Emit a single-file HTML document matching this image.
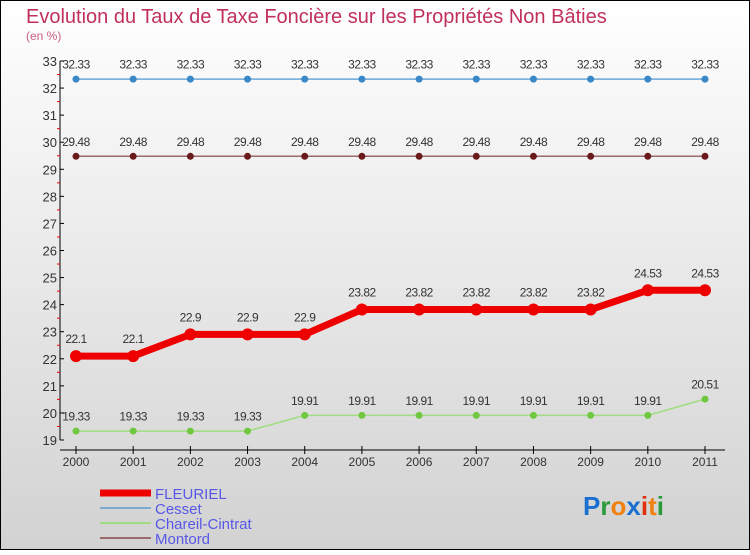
<!DOCTYPE html>
<html><head><meta charset="utf-8"><style>
html,body{margin:0;padding:0}
body{width:750px;height:550px;overflow:hidden;font-family:"Liberation Sans",sans-serif}
</style></head><body>
<svg id="chart" width="750" height="550" xmlns="http://www.w3.org/2000/svg">
<defs><linearGradient id="bg" x1="0" y1="0" x2="0" y2="1"><stop offset="0" stop-color="#ffffff"/><stop offset="1" stop-color="#d2d2d2"/></linearGradient></defs>
<rect x="0.5" y="0.5" width="749" height="549" fill="url(#bg)" stroke="#000"/>
<text x="26" y="23" font-size="20" fill="#c0305a">Evolution du Taux de Taxe Foncière sur les Propriétés Non Bâties</text>
<text x="26" y="40" font-size="12" fill="#c86080">(en %)</text>
<g id="axes"></g><g id="series"></g><g id="legend"></g>
<text x="583" y="515" font-size="26" font-weight="bold"><tspan fill="#1a6fd0">P</tspan><tspan fill="#2a9a3a">r</tspan><tspan fill="#f08010">o</tspan><tspan fill="#1a6fd0">x</tspan><tspan fill="#e03010">i</tspan><tspan fill="#f08010">t</tspan><tspan fill="#2a9a3a">i</tspan></text>
</svg>
<script>
const years=[2000,2001,2002,2003,2004,2005,2006,2007,2008,2009,2010,2011];
const fleuriel=[22.1,22.1,22.9,22.9,22.9,23.82,23.82,23.82,23.82,23.82,24.53,24.53];
const cesset=[32.33,32.33,32.33,32.33,32.33,32.33,32.33,32.33,32.33,32.33,32.33,32.33];
const chareil=[19.33,19.33,19.33,19.33,19.91,19.91,19.91,19.91,19.91,19.91,19.91,20.51];
const montord=[29.48,29.48,29.48,29.48,29.48,29.48,29.48,29.48,29.48,29.48,29.48,29.48];
const yTicks=[19,20,21,22,23,24,25,26,27,28,29,30,31,32,33];
const NS="http://www.w3.org/2000/svg";
const x=i=>76+i*(705-76)/(years.length-1);
const y=v=>440-(v-19)*(440-61)/14;
function mk(tag,attrs,parent,txt){const e=document.createElementNS(NS,tag);for(const k in attrs)e.setAttribute(k,attrs[k]);if(txt!==undefined)e.textContent=txt;parent.appendChild(e);return e;}
const axes=document.getElementById('axes');
let a=mk('line',{x1:60,y1:61,x2:60,y2:440,stroke:'#000'},axes);


a=mk('line',{x1:60,y1:450,x2:725,y2:450,stroke:'#000'},axes);


yTicks.forEach(v=>{
  mk('line',{x1:60,y1:y(v),x2:64,y2:y(v),stroke:'#000'},axes);
  if(v<33)mk('line',{x1:57,y1:y(v+0.5),x2:60,y2:y(v+0.5),stroke:'#e00'},axes);
  const t=mk('text',{x:57,y:y(v)+5,'font-size':13,'text-anchor':'end',fill:'#333'},axes,String(v));
  
  
});
years.forEach((yr,i)=>{
  mk('line',{x1:x(i),y1:446,x2:x(i),y2:454,stroke:'#000'},axes);
  const t=mk('text',{x:x(i),y:466,'font-size':12,'text-anchor':'middle',fill:'#333'},axes,String(yr));
  
  
});
const ser=document.getElementById('series');
function draw(name,vals,color,w,r,dot){
  const g=mk('g',{},ser);
  
  
  const p=mk('polyline',{points:vals.map((v,i)=>x(i)+','+y(v)).join(' '),fill:'none',stroke:color,'stroke-width':w,'stroke-linejoin':'round'},g);
  
  
  vals.forEach((v,i)=>{
    const c=mk('circle',{cx:x(i),cy:y(v),r:r,fill:dot},g);
    
    
    const t=mk('text',{x:x(i),y:y(v)-(r+7),'font-size':12,'text-anchor':'middle',fill:'#333','letter-spacing':'-0.5'},g,String(v));
    
    
  });
}
draw('cesset',cesset,'#6aa8d8',1.5,3.5,'#3a88c8');
draw('montord',montord,'#9a6a6a',1.5,3.5,'#6a1a1a');
draw('chareil',chareil,'#a0dc80',1.5,3.5,'#70c840');
draw('fleuriel',fleuriel,'#ee0000',7,6,'#ee0000');
const lg=document.getElementById('legend');
[['FLEURIEL','#ee0000',7],['Cesset','#7aaad0',2],['Chareil-Cintrat','#a0dc80',2],['Montord','#9a6a6a',2]].forEach((d,i)=>{
  const g=mk('g',{},lg);
  
  
  const yy=493+i*15;
  mk('line',{x1:100,y1:yy,x2:151,y2:yy,stroke:d[1],'stroke-width':d[2]},g);
  mk('text',{x:155,y:yy+6,'font-size':15,fill:'#5858e8'},g,d[0]);
});
</script>
</body></html>
